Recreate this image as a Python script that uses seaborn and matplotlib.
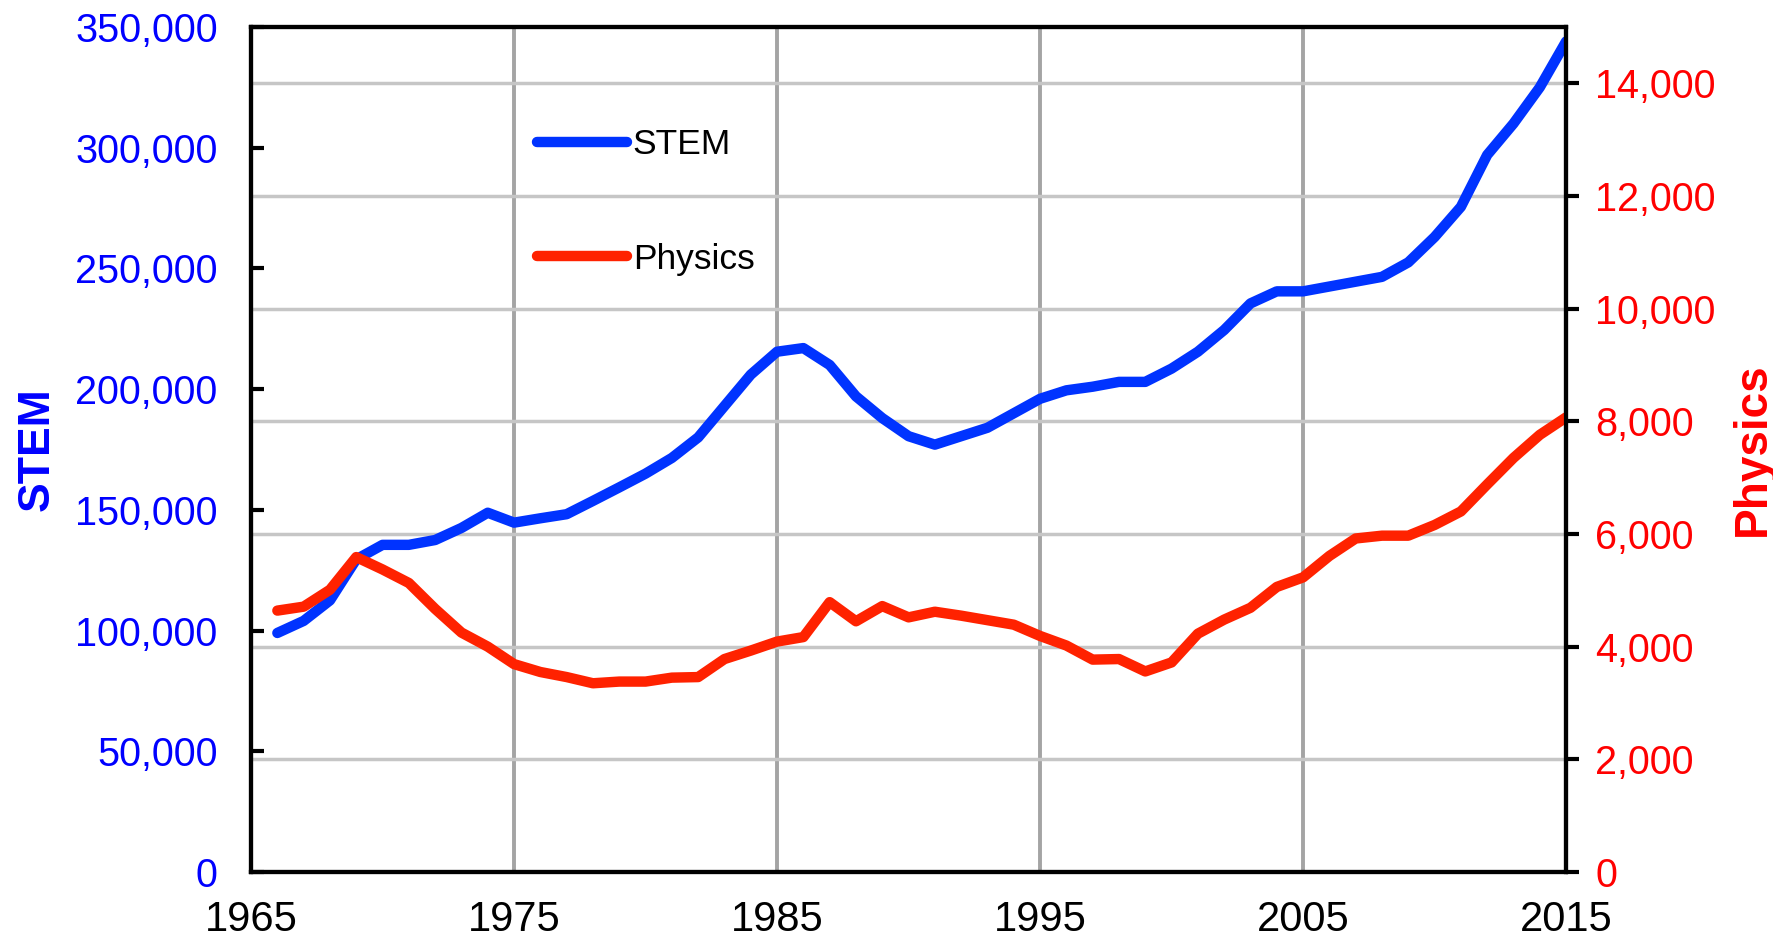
import matplotlib
matplotlib.use("Agg")
import matplotlib.pyplot as plt
import pandas as pd
import seaborn as sns
from matplotlib.ticker import FixedLocator, StrMethodFormatter


years = list(range(1966, 2016))
stem = [
    99000, 104000, 112500, 129500, 135500, 135500, 137500, 142500, 148800, 144700,
    146500, 148200, 153700, 159300, 165000, 171500, 180000, 193000, 206000, 215500,
    217000, 210000, 197000, 188000, 180500, 177000, 180500, 184000, 190000, 196000,
    199500, 201000, 203000, 203000, 208500, 215500, 224500, 235500, 240500, 240500,
    242500, 244500, 246500, 252500, 263000, 275500, 297000, 310000, 325000, 344000,
]
physics = [
    4640, 4710, 5010, 5590, 5370, 5130, 4670, 4250, 4000, 3690,
    3550, 3460, 3350, 3380, 3380, 3450, 3460, 3780, 3930, 4090,
    4170, 4790, 4450, 4720, 4520, 4620, 4550, 4470, 4390, 4190,
    4020, 3770, 3780, 3560, 3720, 4230, 4480, 4690, 5060, 5230,
    5610, 5920, 5970, 5970, 6160, 6400, 6880, 7350, 7760, 8070,
]
year_ticks = list(range(1965, 2016, 10))
stem_ticks = list(range(0, 350001, 50000))
physics_ticks = list(range(0, 14001, 2000))
STEM_MAX = 350000
PHYS_MAX = 15000

sns.set_style("white")
plt.rcParams["font.family"] = ["Liberation Sans", "DejaVu Sans"]

df = pd.DataFrame({"year": years, "STEM": stem, "Physics": physics})

fig = plt.figure(figsize=(17.73, 9.43), dpi=100)
ax = fig.add_axes([0.1416, 0.0753, 0.7417, 0.8961])
ax2 = ax.twinx()

sns.lineplot(data=df, x="year", y="STEM", color="#0033ff", linewidth=7.5,
             solid_capstyle="round", legend=False, ax=ax)
sns.lineplot(data=df, x="year", y="Physics", color="#ff2200", linewidth=7.5,
             solid_capstyle="round", legend=False, ax=ax2)

ax.set_xlim(1965, 2015)
ax.set_ylim(0, STEM_MAX)
ax2.set_ylim(0, PHYS_MAX)
ax.set_xticks(year_ticks)
ax.set_yticks(stem_ticks)
ax2.set_yticks(physics_ticks)
ax.yaxis.set_major_formatter(StrMethodFormatter("{x:,.0f}"))
ax2.yaxis.set_major_formatter(StrMethodFormatter("{x:,.0f}"))

# horizontal grid follows the Physics ticks, drawn on the lower axes so it stays under both lines
ax.yaxis.set_minor_locator(FixedLocator([p * STEM_MAX / PHYS_MAX for p in physics_ticks[1:]]))
ax.set_axisbelow(True)
ax.grid(axis="y", which="minor", color="#c6c6c6", linewidth=2.5)
ax.grid(axis="x", which="major", color="#a4a4a4", linewidth=2.8)
ax.grid(axis="y", which="major", visible=False)

ax.set_xlabel("")
ax.set_ylabel("STEM", color="#0000ff", fontsize=32, fontweight="bold")
ax2.set_ylabel("Physics", color="#ff0000", fontsize=33, fontweight="bold")
ax.yaxis.set_label_coords(-0.147, 0.5)
ax2.yaxis.set_label_coords(1.125, 0.5)

ax.tick_params(axis="y", which="major", direction="in", length=9, width=3,
               color="black", labelcolor="#0000ff", labelsize=28.5, pad=24)
ax.tick_params(axis="y", which="minor", length=0)
ax.tick_params(axis="x", direction="in", length=10, width=3, color="black",
               labelcolor="black", labelsize=30, pad=20)
ax2.tick_params(axis="y", direction="out", length=9, width=3, color="black",
                labelcolor="#ff0000", labelsize=28.5, pad=12)

for a in (ax, ax2):
    for s in a.spines.values():
        s.set_color("black")
        s.set_linewidth(3)

ax2.legend(handles=[ax.lines[0], ax2.lines[0]], labels=["STEM", "Physics"],
           loc="upper left", bbox_to_anchor=(0.2175, 0.88), frameon=False,
           fontsize=25.5, labelcolor="black", handlelength=2.55, handletextpad=0.15,
           labelspacing=2.3, borderpad=0, borderaxespad=0)

fig.savefig("out.png", dpi=100)
plt.close(fig)
